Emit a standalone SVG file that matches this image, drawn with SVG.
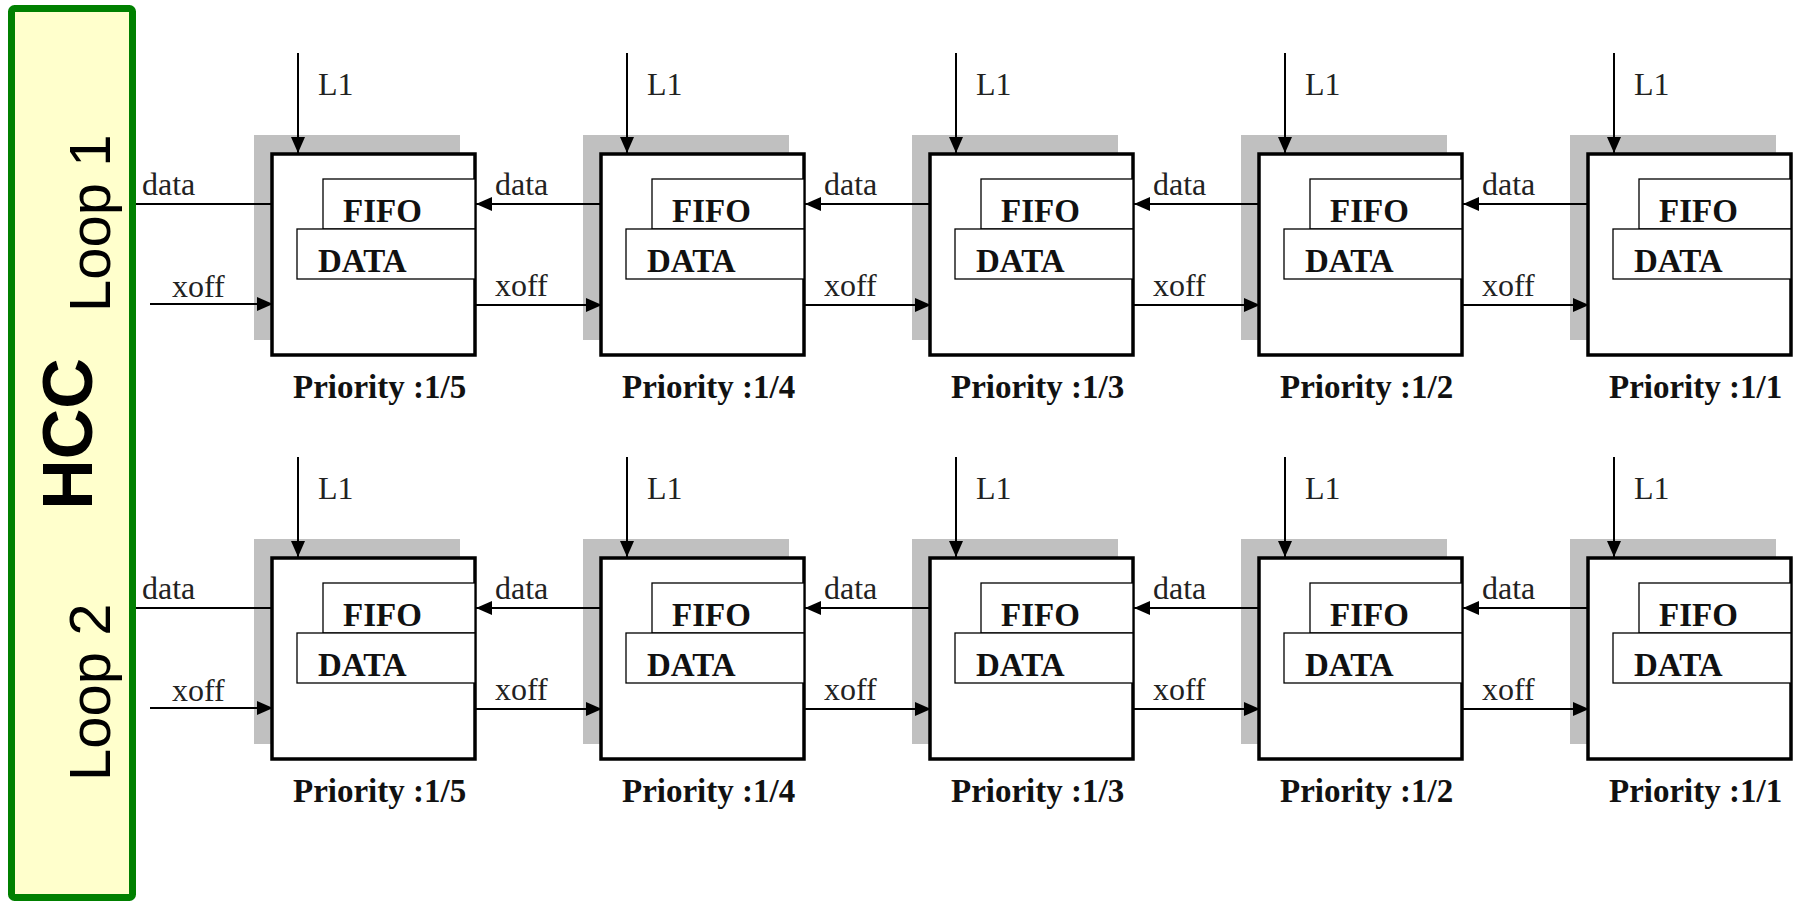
<svg xmlns="http://www.w3.org/2000/svg" width="1802" height="901" viewBox="0 0 1802 901">
<style>
.sh{fill:#c0c0c0}
.box{fill:#fff;stroke:#000;stroke-width:3.5}
.in{fill:#fff;stroke:#000;stroke-width:1.3}
.bt{font-family:"Liberation Serif","Times New Roman",serif;font-weight:bold;font-size:33px;fill:#111}
.pr{font-family:"Liberation Serif","Times New Roman",serif;font-weight:bold;font-size:33px;fill:#111}
.lb{font-family:"Liberation Serif","Times New Roman",serif;font-size:32px;fill:#222}
.ln{stroke:#000;stroke-width:2;fill:none}
.ar{marker-end:url(#ah)}
.side{font-family:"Liberation Sans",Arial,sans-serif;fill:#000}
</style>
<defs>
<marker id="ah" markerUnits="userSpaceOnUse" markerWidth="17" markerHeight="14" refX="16" refY="7" orient="auto">
<path d="M0,0 L16,7 L0,14 z" fill="#000"/>
</marker>
<g id="blk">
<rect class="sh" x="-18" y="-19" width="206" height="205"/>
<rect class="box" x="0" y="0" width="203" height="201"/>
<rect class="in" x="51" y="25" width="152" height="50"/>
<rect class="in" x="25" y="75" width="178" height="50"/>
<text class="bt" x="71" y="68">FIFO</text>
<text class="bt" x="46" y="118">DATA</text>
</g>
</defs>
<rect width="1802" height="901" fill="#fff"/>
<g id="hcc">
<rect x="11.5" y="8.5" width="121" height="889" rx="3" fill="#ffffcc" stroke="#008000" stroke-width="7"/>
<text class="side" font-size="58" transform="translate(110,312) rotate(-90)">Loop 1</text>
<text class="side" font-size="70" font-weight="bold" text-anchor="middle" transform="translate(92,434) rotate(-90)">HCC</text>
<text class="side" font-size="58" transform="translate(110,781) rotate(-90)">Loop 2</text>
</g>
<g id="r1b1" transform="translate(272,154)"><use href="#blk"/><text class="pr" x="21" y="244">Priority :1/5</text></g>
<g id="r1b2" transform="translate(601,154)"><use href="#blk"/><text class="pr" x="21" y="244">Priority :1/4</text></g>
<g id="r1b3" transform="translate(930,154)"><use href="#blk"/><text class="pr" x="21" y="244">Priority :1/3</text></g>
<g id="r1b4" transform="translate(1259,154)"><use href="#blk"/><text class="pr" x="21" y="244">Priority :1/2</text></g>
<g id="r1b5" transform="translate(1588,154)"><use href="#blk"/><text class="pr" x="21" y="244">Priority :1/1</text></g>
<g id="r2b1" transform="translate(272,558)"><use href="#blk"/><text class="pr" x="21" y="244">Priority :1/5</text></g>
<g id="r2b2" transform="translate(601,558)"><use href="#blk"/><text class="pr" x="21" y="244">Priority :1/4</text></g>
<g id="r2b3" transform="translate(930,558)"><use href="#blk"/><text class="pr" x="21" y="244">Priority :1/3</text></g>
<g id="r2b4" transform="translate(1259,558)"><use href="#blk"/><text class="pr" x="21" y="244">Priority :1/2</text></g>
<g id="r2b5" transform="translate(1588,558)"><use href="#blk"/><text class="pr" x="21" y="244">Priority :1/1</text></g>
<g id="connectors">
<g id="row1c" transform="translate(0,154)">
<line class="ln ar" x1="298" y1="-101" x2="298" y2="-1"/>
<line class="ln ar" x1="627" y1="-101" x2="627" y2="-1"/>
<line class="ln ar" x1="956" y1="-101" x2="956" y2="-1"/>
<line class="ln ar" x1="1285" y1="-101" x2="1285" y2="-1"/>
<line class="ln ar" x1="1614" y1="-101" x2="1614" y2="-1"/>
<text class="lb" x="318" y="-59">L1</text>
<text class="lb" x="647" y="-59">L1</text>
<text class="lb" x="976" y="-59">L1</text>
<text class="lb" x="1305" y="-59">L1</text>
<text class="lb" x="1634" y="-59">L1</text>
<line class="ln" x1="272" y1="50" x2="136" y2="50"/>
<line class="ln ar" x1="150" y1="150" x2="273" y2="150"/>
<text class="lb" x="142" y="41">data</text>
<text class="lb" x="172" y="143">xoff</text>
<line class="ln ar" x1="601" y1="50" x2="476" y2="50"/>
<line class="ln ar" x1="930" y1="50" x2="805" y2="50"/>
<line class="ln ar" x1="1259" y1="50" x2="1134" y2="50"/>
<line class="ln ar" x1="1588" y1="50" x2="1463" y2="50"/>
<line class="ln ar" x1="475" y1="151" x2="602" y2="151"/>
<line class="ln ar" x1="804" y1="151" x2="931" y2="151"/>
<line class="ln ar" x1="1133" y1="151" x2="1260" y2="151"/>
<line class="ln ar" x1="1462" y1="151" x2="1589" y2="151"/>
<text class="lb" x="495" y="41">data</text>
<text class="lb" x="824" y="41">data</text>
<text class="lb" x="1153" y="41">data</text>
<text class="lb" x="1482" y="41">data</text>
<text class="lb" x="495" y="142">xoff</text>
<text class="lb" x="824" y="142">xoff</text>
<text class="lb" x="1153" y="142">xoff</text>
<text class="lb" x="1482" y="142">xoff</text>
</g>
<g id="row2c" transform="translate(0,558)">
<line class="ln ar" x1="298" y1="-101" x2="298" y2="-1"/>
<line class="ln ar" x1="627" y1="-101" x2="627" y2="-1"/>
<line class="ln ar" x1="956" y1="-101" x2="956" y2="-1"/>
<line class="ln ar" x1="1285" y1="-101" x2="1285" y2="-1"/>
<line class="ln ar" x1="1614" y1="-101" x2="1614" y2="-1"/>
<text class="lb" x="318" y="-59">L1</text>
<text class="lb" x="647" y="-59">L1</text>
<text class="lb" x="976" y="-59">L1</text>
<text class="lb" x="1305" y="-59">L1</text>
<text class="lb" x="1634" y="-59">L1</text>
<line class="ln" x1="272" y1="50" x2="136" y2="50"/>
<line class="ln ar" x1="150" y1="150" x2="273" y2="150"/>
<text class="lb" x="142" y="41">data</text>
<text class="lb" x="172" y="143">xoff</text>
<line class="ln ar" x1="601" y1="50" x2="476" y2="50"/>
<line class="ln ar" x1="930" y1="50" x2="805" y2="50"/>
<line class="ln ar" x1="1259" y1="50" x2="1134" y2="50"/>
<line class="ln ar" x1="1588" y1="50" x2="1463" y2="50"/>
<line class="ln ar" x1="475" y1="151" x2="602" y2="151"/>
<line class="ln ar" x1="804" y1="151" x2="931" y2="151"/>
<line class="ln ar" x1="1133" y1="151" x2="1260" y2="151"/>
<line class="ln ar" x1="1462" y1="151" x2="1589" y2="151"/>
<text class="lb" x="495" y="41">data</text>
<text class="lb" x="824" y="41">data</text>
<text class="lb" x="1153" y="41">data</text>
<text class="lb" x="1482" y="41">data</text>
<text class="lb" x="495" y="142">xoff</text>
<text class="lb" x="824" y="142">xoff</text>
<text class="lb" x="1153" y="142">xoff</text>
<text class="lb" x="1482" y="142">xoff</text>
</g>
</g>
</svg>
